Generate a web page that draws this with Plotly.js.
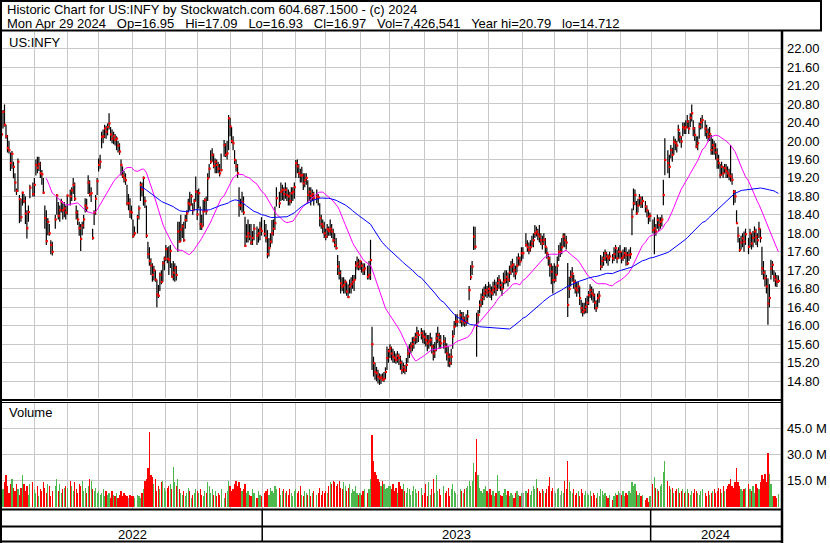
<!DOCTYPE html>
<html><head><meta charset="utf-8">
<script src="https://cdn.plot.ly/plotly-3.0.1.min.js"></script>
<style>html,body{margin:0;padding:0;background:#fff}#chart{width:830px;height:543px}</style>
</head><body><div id="chart"></div>
<script>
// ---- DATA (daily bars for US:INFY) ----
const firstDay = '2022-05-02';
const lastDay = '2024-04-29';
const holidays = ['2022-05-30','2022-06-20','2022-07-04','2022-09-05','2022-11-24','2022-12-26',
  '2023-01-02','2023-01-16','2023-02-20','2023-04-07','2023-05-29','2023-06-19','2023-07-04','2023-09-04','2023-11-23','2023-12-25',
  '2024-01-01','2024-01-15','2024-02-19','2024-03-29'];

const close = [
 20.14,20.63,20.35,20.10,19.85,19.80,19.52,19.72,19.44,19.10,18.92,19.55,18.74,18.35,18.88,18.70,18.43,18.11,18.46,18.99,18.85,
 19.05,19.48,19.42,19.50,19.30,19.28,18.88,18.33,17.83,18.25,18.00,17.75,17.60,18.30,18.82,18.38,18.50,18.68,18.50,18.54,18.45,
 18.82,18.80,18.93,19.05,18.75,18.45,18.30,18.11,17.88,18.17,18.30,18.60,18.55,19.10,18.85,18.87,17.90,18.45,18.75,19.13,
 19.48,19.55,20.09,20.10,20.27,20.20,20.30,20.38,20.14,20.05,20.10,20.02,20.05,19.90,19.77,19.48,19.25,19.20,19.15,18.65,18.65,18.47,18.45,
 17.94,18.00,18.35,18.54,19.05,18.95,19.20,18.70,17.95,17.55,17.40,17.30,17.10,17.20,17.00,16.68,16.65,17.10,16.95,17.35,17.45,
 17.66,17.45,17.43,17.62,17.06,17.15,17.25,17.10,18.04,17.82,18.08,18.15,17.85,18.29,18.43,18.65,18.62,18.80,18.50,18.70,18.90,
 18.41,18.87,18.20,18.15,18.47,18.72,18.48,19.19,19.40,19.55,19.70,19.46,19.55,19.48,19.40,19.30,19.37,19.91,19.70,19.73,20.49,
 20.31,20.00,19.95,19.59,19.45,19.30,18.61,18.60,18.68,18.45,17.73,17.93,18.00,17.93,17.80,17.90,18.10,17.95,18.00,18.10,18.05,
 17.99,17.90,17.55,17.68,17.82,18.00,18.10,18.22,18.76,18.65,18.90,18.94,18.85,18.94,18.83,18.80,18.70,18.87,18.90,19.00,
 19.52,19.45,19.30,19.25,19.26,19.08,19.15,19.20,18.83,18.90,18.81,18.85,18.76,18.80,18.78,18.33,18.20,18.15,18.00,
 17.93,18.09,18.05,18.10,18.04,17.85,17.75,17.68,17.28,17.14,16.92,16.85,16.88,16.95,16.74,16.62,16.85,16.90,16.95,16.99,17.30,17.35,17.28,
 17.39,17.30,17.20,17.24,17.06,17.10,17.42,15.60,15.19,15.00,14.97,14.90,14.86,14.88,14.83,14.85,15.00,15.30,15.45,
 15.51,15.40,15.33,15.30,15.26,15.35,15.30,15.20,15.04,15.10,15.04,15.15,15.40,15.48,15.55,15.60,15.69,15.75,15.84,15.80,15.84,15.78,
 15.75,15.69,15.62,15.66,15.69,15.55,15.40,15.47,15.73,15.80,15.69,15.62,15.66,15.55,15.40,15.33,15.19,15.33,15.77,15.98,16.09,
 16.09,16.23,16.10,16.16,16.07,16.09,16.20,16.77,17.05,17.28,17.93,17.71,16.00,16.23,16.45,16.56,16.62,16.70,16.77,16.72,
 16.80,16.74,16.70,16.77,16.85,16.80,16.92,16.99,16.88,16.80,16.95,16.99,17.06,17.00,17.15,17.28,17.32,17.20,17.13,17.30,17.46,17.39,17.57,
 17.57,17.75,17.70,17.64,17.70,17.78,17.85,18.00,18.04,17.98,17.93,17.85,17.78,17.86,17.71,17.57,17.46,17.30,17.17,16.99,
 16.99,17.10,17.30,17.60,17.60,17.70,17.93,17.85,17.80,16.45,16.80,17.06,17.13,16.95,16.81,16.77,16.85,16.60,16.38,16.30,16.34,16.41,
 16.50,16.66,16.77,16.70,16.66,16.50,16.38,16.60,16.65,17.28,17.40,17.46,17.57,17.50,17.46,17.50,17.46,17.55,17.68,17.46,17.60,
 17.60,17.46,17.50,17.57,17.53,17.35,17.53,17.55,18.36,18.65,18.83,18.43,18.60,18.76,18.65,18.70,18.58,18.50,18.36,18.38,
 18.07,18.11,18.04,18.29,18.18,18.25,18.30,18.83,19.59,19.52,19.44,19.80,19.70,19.98,19.95,19.90,20.24,20.09,19.99,20.30,20.27,
 20.30,20.42,20.27,20.50,20.60,20.27,20.13,19.88,19.95,20.31,20.40,20.45,20.27,20.20,20.09,20.15,19.80,19.91,19.85,19.75,
 19.60,19.52,19.26,19.44,19.30,19.41,19.35,19.30,19.25,19.23,19.16,18.90,18.80,18.22,17.95,17.64,17.80,17.89,17.82,17.98,
 17.71,18.00,17.78,17.90,18.04,17.93,17.85,18.10,17.90,17.24,17.15,17.03,16.85,16.48,16.60,17.24,17.32,17.06,17.00,16.95,16.97
];
const high = [
 20.31,20.67,20.79,20.35,20.13,20.00,19.75,19.78,19.55,19.30,18.97,19.62,18.83,18.75,18.90,18.85,18.80,18.50,18.60,19.05,19.10,
 19.20,19.60,19.66,19.66,19.55,19.37,19.20,18.60,18.50,18.33,18.20,17.85,17.82,18.40,18.85,18.68,18.60,18.75,18.65,18.68,18.60,
 18.83,18.95,19.00,19.20,19.10,18.60,18.50,18.25,18.20,18.25,18.40,18.76,18.75,19.26,19.15,19.00,18.10,18.50,18.83,19.20,
 19.62,19.70,20.20,20.25,20.35,20.33,20.38,20.60,20.30,20.25,20.20,20.15,20.10,20.00,19.95,19.60,19.45,19.35,19.30,19.05,18.85,18.76,18.60,
 18.30,18.15,18.40,18.60,19.12,19.10,19.23,18.80,18.60,17.82,17.70,17.46,17.35,17.30,17.20,17.00,16.88,17.15,17.20,17.40,17.50,
 17.75,17.70,17.72,17.75,17.35,17.40,17.35,17.30,18.25,18.25,18.40,18.20,18.25,18.40,18.50,18.75,18.90,18.85,18.65,18.75,19.23,
 18.94,18.97,18.58,18.40,18.72,18.76,18.80,19.30,19.50,19.80,19.84,19.73,19.62,19.60,19.55,19.50,19.73,20.02,19.95,20.00,20.56,
 20.50,20.30,20.10,19.80,19.60,19.50,19.00,18.75,18.90,18.80,18.36,18.20,18.30,18.20,18.20,18.05,18.20,18.15,18.10,18.25,18.35,
 18.29,18.20,18.07,17.90,18.00,18.29,18.30,18.58,19.00,18.90,19.10,19.05,19.00,19.10,19.00,18.95,18.90,19.00,19.00,19.10,
 19.59,19.60,19.50,19.40,19.44,19.30,19.30,19.30,19.15,19.00,19.00,18.95,18.90,18.95,18.85,18.65,18.40,18.30,18.25,
 18.10,18.20,18.15,18.30,18.20,18.10,18.00,17.90,17.53,17.40,17.20,17.05,17.05,17.00,16.95,16.90,17.00,17.05,17.10,17.10,17.40,17.50,17.45,
 17.42,17.40,17.35,17.35,17.30,17.40,17.86,15.98,15.33,15.20,15.11,15.05,14.97,14.95,14.97,15.00,15.10,15.55,15.50,
 15.60,15.55,15.50,15.45,15.40,15.45,15.40,15.35,15.25,15.20,15.15,15.30,15.55,15.60,15.65,15.75,15.76,15.85,15.98,15.90,15.95,15.90,
 15.90,15.85,15.80,15.80,15.85,15.75,15.60,15.65,15.85,15.98,15.85,15.80,15.80,15.75,15.62,15.55,15.40,15.50,15.90,16.10,16.25,
 16.25,16.34,16.30,16.30,16.20,16.25,16.34,16.86,17.31,17.40,18.15,18.14,16.28,16.34,16.55,16.70,16.80,16.85,16.90,16.86,
 16.95,16.90,16.85,16.95,17.00,16.95,17.05,17.10,17.00,16.95,17.15,17.20,17.20,17.15,17.30,17.40,17.45,17.35,17.30,17.50,17.57,17.50,17.70,
 17.70,18.00,17.85,17.80,17.85,17.95,18.00,18.18,18.15,18.10,18.18,18.00,17.95,18.00,17.90,17.70,17.56,17.50,17.35,17.30,
 17.35,17.30,17.50,17.75,17.80,17.90,18.00,18.00,17.95,17.36,17.06,17.20,17.27,17.10,17.00,16.95,16.95,16.85,16.56,16.50,16.50,16.60,
 16.65,16.75,16.90,16.85,16.80,16.70,16.55,16.70,16.75,17.53,17.50,17.60,17.65,17.60,17.55,17.60,17.55,17.70,17.75,17.65,17.70,
 17.75,17.60,17.65,17.70,17.70,17.60,17.65,17.70,18.54,18.97,18.95,18.70,18.75,18.85,18.80,18.80,18.70,18.60,18.50,18.45,
 18.30,18.35,18.20,18.40,18.35,18.35,18.40,19.16,20.06,19.80,19.70,19.91,19.85,20.10,20.05,20.00,20.35,20.20,20.10,20.40,20.40,
 20.45,20.56,20.45,20.60,20.79,20.45,20.30,20.10,20.10,20.40,20.50,20.56,20.45,20.35,20.27,20.30,20.13,20.05,20.00,19.95,
 19.84,19.70,19.50,19.55,19.45,19.50,19.50,19.45,19.40,19.91,19.30,18.94,18.94,18.50,18.14,17.90,17.95,18.00,18.04,18.10,
 17.90,18.10,18.00,18.05,18.15,18.10,18.00,18.25,18.10,17.71,17.40,17.20,17.10,17.03,16.90,17.43,17.40,17.20,17.15,17.10,17.09
];
const low = [
 20.09,20.27,20.31,20.05,19.75,19.73,19.35,19.40,19.19,18.90,18.83,18.90,18.22,18.25,18.60,18.65,18.20,17.89,18.25,18.76,18.80,
 18.80,19.25,19.30,19.35,19.20,19.05,18.85,18.10,17.75,17.96,17.95,17.55,17.52,18.10,18.40,18.30,18.25,18.45,18.30,18.35,18.30,
 18.40,18.60,18.70,18.85,18.70,18.30,18.18,17.95,17.62,17.96,18.10,18.45,18.47,18.85,18.80,18.68,17.86,18.18,18.40,18.83,
 19.34,19.40,19.84,19.95,20.06,20.05,20.12,20.25,20.00,19.95,19.93,19.90,19.80,19.75,19.70,19.25,19.20,19.10,19.05,18.60,18.50,18.33,18.30,
 17.90,17.95,18.00,18.30,18.70,18.80,18.60,18.55,17.90,17.45,17.30,17.10,16.95,16.98,16.95,16.40,16.60,16.75,16.90,16.95,17.20,
 17.40,17.35,17.10,17.25,17.05,16.98,16.95,16.98,17.60,17.80,17.82,17.90,17.82,18.10,18.25,18.45,18.50,18.60,18.40,18.50,18.69,
 18.29,18.54,18.07,18.07,18.15,18.47,18.40,18.70,19.20,19.50,19.55,19.41,19.30,19.30,19.30,19.23,19.34,19.66,19.65,19.60,19.80,
 20.10,19.95,19.80,19.50,19.34,19.20,18.36,18.50,18.45,18.40,17.71,17.80,17.80,17.85,17.75,17.75,17.85,17.75,17.80,17.85,17.95,
 17.93,17.80,17.46,17.50,17.70,17.78,17.95,18.07,18.58,18.55,18.70,18.72,18.70,18.75,18.70,18.60,18.60,18.65,18.70,18.75,
 19.20,19.30,19.20,19.10,19.10,18.94,19.00,19.05,18.65,18.70,18.60,18.70,18.60,18.65,18.60,18.15,18.10,18.00,17.90,
 17.85,17.90,17.95,17.95,17.90,17.80,17.70,17.65,17.10,17.00,16.70,16.75,16.70,16.70,16.65,16.60,16.70,16.70,16.80,16.75,17.00,17.21,17.20,
 17.21,17.15,17.10,17.10,17.00,17.00,16.99,15.04,14.90,14.83,14.80,14.75,14.72,14.74,14.80,14.78,14.85,15.04,15.20,
 15.30,15.25,15.20,15.20,15.18,15.20,15.15,15.05,14.95,14.98,14.95,15.00,15.20,15.30,15.40,15.45,15.50,15.60,15.62,15.65,15.70,15.62,
 15.60,15.55,15.45,15.50,15.55,15.40,15.25,15.30,15.45,15.62,15.50,15.50,15.50,15.40,15.25,15.11,15.10,15.15,15.50,15.80,15.98,
 15.98,16.05,15.98,16.00,15.98,16.00,16.05,16.55,16.99,17.10,17.64,17.65,15.33,16.05,16.27,16.40,16.45,16.55,16.63,16.60,
 16.63,16.60,16.55,16.65,16.70,16.65,16.75,16.80,16.75,16.65,16.80,16.90,16.92,16.85,16.95,17.10,17.15,17.05,17.00,17.15,17.30,17.30,17.40,
 17.45,17.71,17.60,17.55,17.60,17.70,17.70,17.90,17.93,17.85,17.80,17.75,17.65,17.75,17.56,17.45,17.30,17.06,16.90,16.70,
 16.92,16.95,17.10,17.40,17.49,17.55,17.71,17.70,17.65,16.19,16.60,16.85,16.95,16.80,16.70,16.63,16.70,16.45,16.27,16.20,16.25,16.27,
 16.27,16.45,16.60,16.55,16.50,16.35,16.30,16.40,16.50,17.20,17.25,17.30,17.40,17.35,17.30,17.40,17.35,17.40,17.45,17.35,17.45,
 17.45,17.35,17.40,17.45,17.30,17.31,17.40,17.45,17.96,18.50,18.61,18.40,18.45,18.60,18.55,18.55,18.45,18.35,18.20,18.25,
 18.00,17.55,17.95,18.10,18.05,18.10,18.15,18.61,19.26,19.30,19.20,19.62,19.55,19.70,19.80,19.75,19.99,19.95,19.85,20.10,20.15,
 20.15,20.27,20.15,20.30,20.42,20.10,20.00,19.84,19.80,20.05,20.25,20.27,20.10,20.05,19.99,20.00,19.70,19.70,19.70,19.60,
 19.40,19.40,19.19,19.25,19.20,19.30,19.20,19.20,19.15,19.12,19.05,18.61,18.66,18.22,17.80,17.60,17.65,17.70,17.60,17.75,
 17.55,17.70,17.65,17.70,17.80,17.75,17.70,17.90,17.80,17.10,17.00,16.85,16.70,16.02,16.40,17.00,17.10,16.95,16.85,16.84,16.93
];
// daily volume, millions of shares
const volumeM = [
 7,10,14,18,12,8,13,16,11,9,13,10,7,11,18,13,9,12,7,13,14,
 10,8,12,6,10,9,14,11,8,13,12,6,9,12,16,9,13,8,10,11,12,
 11,15,12,9,14,10,8,13,12,15,9,11,8,12,16,15,10,9,11,8,
 9,7,8,10,6,9,7,8,5,9,7,6,8,5,7,9,6,8,7,6,5,7,6,
 6,5,7,6,5,8,10,15,16,22,43,18,17,13,16,9,12,10,14,15,11,
 9,11,12,13,10,23,14,12,16,10,8,7,9,6,8,11,9,5,7,8,10,
 9,8,10,7,6,9,8,14,12,8,10,7,9,6,8,7,10,5,8,9,15,
 12,9,10,13,15,12,14,11,9,10,13,8,9,7,6,10,8,5,9,7,6,
 8,9,10,7,11,9,8,12,10,11,7,9,10,8,9,7,10,8,6,9,
 10,8,9,12,7,6,9,8,7,10,6,8,9,7,8,11,7,9,8,
 9,8,12,14,13,15,14,12,13,15,11,10,14,12,9,11,13,8,10,9,12,8,7,
 8,7,9,10,8,10,16,41,26,20,18,16,14,12,15,13,10,11,12,
 12,10,13,9,11,8,14,12,10,13,9,8,11,10,7,9,12,10,8,9,11,7,
 8,13,6,14,7,10,16,8,18,9,10,7,12,8,9,11,6,10,13,9,8,
 7,10,9,8,10,11,12,15,12,15,25,20,39,18,11,9,8,10,12,9,
 8,10,7,9,6,8,18,9,7,6,8,10,7,9,6,8,7,5,8,9,7,6,8,
 8,9,8,10,7,9,12,10,16,11,9,8,10,9,8,10,12,17,9,11,
 9,8,10,11,7,9,8,15,10,26,14,9,8,10,7,8,9,6,10,8,7,9,
 8,7,9,6,8,7,5,8,6,10,9,7,8,6,5,7,4,6,8,7,9,
 8,7,9,6,8,7,9,8,14,12,13,9,7,8,6,7,4,5,3,6,
 13,17,11,10,9,12,13,20,26,15,12,10,11,8,9,10,11,8,9,10,8,
 9,10,8,7,9,8,10,9,8,7,9,10,8,6,9,7,8,9,10,8,
 9,11,10,8,12,9,10,12,13,16,12,11,14,22,14,12,10,9,10,11,
 13,10,9,12,8,13,11,10,14,18,16,19,14,31,19,13,6,6,6,5,7.43
];
const priceTickVals = [14.8,15.2,15.6,16.0,16.4,16.8,17.2,17.6,18.0,18.4,18.8,19.2,19.6,20.0,20.4,20.8,21.2,21.6,22.0];
const volumeTickVals = [15,30,45];
const volumeTickText = ['15.0 M','30.0 M','45.0 M'];
const maFastLen = 30, maSlowLen = 90;

// ---- BUILD ----
const W = 830, H = 543;
const X = px => px / W;
const Y = py => 1 - py / H;

const tradeX = [], tradeDates = [], monthGrid = [], yearStarts = [];
{
  const d = new Date(firstDay + 'T00:00:00Z'), end = new Date(lastDay + 'T00:00:00Z');
  let w = 0, pm = -1, py = -1;
  while (d <= end) {
    const dow = d.getUTCDay();
    if (dow !== 0 && dow !== 6) {
      const iso = d.toISOString().slice(0, 10);
      if (d.getUTCMonth() !== pm) { if (pm !== -1) monthGrid.push(w); pm = d.getUTCMonth(); }
      if (d.getUTCFullYear() !== py) { yearStarts.push({w: w, year: d.getUTCFullYear()}); py = d.getUTCFullYear(); }
      if (!holidays.includes(iso)) { tradeX.push(w); tradeDates.push(iso); }
      w++;
    }
    d.setUTCDate(d.getUTCDate() + 1);
  }
}
const n = Math.min(tradeX.length, close.length, high.length, low.length, volumeM.length);
const xMin = 0.33, xMax = 521.75;

function movingAverage(vals, len) {
  const out = [];
  for (let i = 0; i < n; i++) {
    if (i < len - 1) { out.push(null); continue; }
    let s = 0; for (let k = i - len + 1; k <= i; k++) s += vals[k];
    out.push(s / len);
  }
  return out;
}

const bx = [], by = [], cx = [], cy = [];
for (let i = 0; i < n; i++) {
  bx.push(tradeX[i], tradeX[i], null); by.push(low[i], high[i], null);
  cx.push(tradeX[i] + 0.3); cy.push(close[i]);
}
const GREEN = '#4db84d', RED = '#ff0000', GRAY = '#a0a0a0';
const volColors = [];
for (let i = 0; i < n; i++) {
  if (i === 0) volColors.push(GREEN);
  else volColors.push(close[i] > close[i-1] ? GREEN : close[i] < close[i-1] ? RED : GRAY);
}

const traces = [
  {type:'scatter', mode:'lines', x:bx, y:by, xaxis:'x', yaxis:'y', line:{color:'#000', width:1.2}, hoverinfo:'skip', connectgaps:false},
  {type:'scatter', mode:'markers', x:cx, y:cy, xaxis:'x', yaxis:'y', marker:{symbol:'square', size:2.2, color:'#ff0000', line:{width:0}}, hoverinfo:'skip'},
  {type:'scatter', mode:'lines', x:tradeX.slice(0,n), y:movingAverage(close, maFastLen), xaxis:'x', yaxis:'y', line:{color:'#ff00ff', width:1}, hoverinfo:'skip'},
  {type:'scatter', mode:'lines', x:tradeX.slice(0,n), y:movingAverage(close, maSlowLen), xaxis:'x', yaxis:'y', line:{color:'#0000ff', width:1}, hoverinfo:'skip'},
  {type:'bar', x:tradeX.slice(0,n), y:volumeM.slice(0,n), xaxis:'x2', yaxis:'y2', width:0.8, marker:{color:volColors, line:{width:0}}, hoverinfo:'skip'}
];

const FONT = 'Liberation Sans, Arial, sans-serif';
const gridC = '#c8c8c8';
const blk = (x0,y0,x1,y1,w) => ({type:'line', xref:'paper', yref:'paper', x0:X(x0), y0:Y(y0), x1:X(x1), y1:Y(y1), line:{color:'#000', width:w}});
const shapes = [
  blk(0,1,822,1,2), blk(1,0,1,543,2), blk(821,0,821,31,2), blk(0,30.5,822,30.5,2),
  blk(782,31,782,543,2.5),
  blk(0,400,782,400,2), blk(0,402.5,782,402.5,1),
  blk(0,509.5,782,509.5,2), blk(0,526.5,782,526.5,2), blk(0,541.5,782,541.5,2)
];
const annotations = [
  {text:'Historic Chart for US:INFY by Stockwatch.com 604.687.1500 - (c) 2024', xref:'paper', yref:'paper', x:X(5), y:Y(10), xanchor:'left', yanchor:'middle', showarrow:false, font:{family:FONT, size:13, color:'#000'}},
  {text:'Mon Apr 29 2024\u00a0\u00a0 Op=16.95\u00a0\u00a0 Hi=17.09\u00a0\u00a0 Lo=16.93\u00a0\u00a0 Cl=16.97\u00a0\u00a0 Vol=7,426,541\u00a0\u00a0 Year hi=20.79\u00a0\u00a0 lo=14.712', xref:'paper', yref:'paper', x:X(5), y:Y(23), xanchor:'left', yanchor:'middle', showarrow:false, font:{family:FONT, size:13, color:'#000'}},
  {text:'US:INFY', xref:'paper', yref:'paper', x:X(7), y:Y(42), xanchor:'left', yanchor:'middle', showarrow:false, font:{family:FONT, size:13, color:'#000'}},
  {text:'Volume', xref:'paper', yref:'paper', x:X(7), y:Y(413), xanchor:'left', yanchor:'middle', showarrow:false, font:{family:FONT, size:13, color:'#000'}}
];
// year band
const bounds = [xMin];
for (let k = 1; k < yearStarts.length; k++) bounds.push(yearStarts[k].w - 0.5);
bounds.push(xMax);
for (let k = 0; k < yearStarts.length; k++) {
  if (k > 0) shapes.push({type:'line', xref:'x', yref:'paper', x0:bounds[k], x1:bounds[k], y0:Y(510), y1:Y(541), line:{color:'#000', width:1.5}});
  annotations.push({text:String(yearStarts[k].year), xref:'x', yref:'paper', x:(bounds[k]+bounds[k+1])/2, y:Y(534), xanchor:'center', yanchor:'middle', showarrow:false, font:{family:FONT, size:13, color:'#000'}});
}
if (!(close.length === high.length && high.length === low.length && low.length === volumeM.length && volumeM.length === tradeX.length)) {
  annotations.push({text:'LEN c'+close.length+' h'+high.length+' l'+low.length+' v'+volumeM.length+' t'+tradeX.length, xref:'paper', yref:'paper', x:0.5, y:0.5, showarrow:false, font:{size:20, color:'red'}});
}

const xCommon = {domain:[X(2), X(781)], range:[xMin, xMax], tickvals:monthGrid, showticklabels:false, ticks:'', showgrid:true, gridcolor:gridC, gridwidth:1, zeroline:false, showline:false, fixedrange:true};
const layout = {
  width:W, height:H, margin:{l:0, r:0, t:0, b:0}, paper_bgcolor:'#fff', plot_bgcolor:'#fff', showlegend:false,
  font:{family:FONT, size:13, color:'#000'}, bargap:0,
  xaxis:Object.assign({anchor:'y'}, xCommon),
  xaxis2:Object.assign({anchor:'y2', matches:'x'}, xCommon),
  yaxis:{domain:[Y(398), Y(32)], range:[14.436, 22.358], side:'right', anchor:'x', tickvals:priceTickVals, ticktext:priceTickVals.map(v => v.toFixed(2)), showgrid:true, gridcolor:gridC, gridwidth:1, zeroline:false, showline:false, ticks:'', ticklabelstandoff:5, tickfont:{family:FONT, size:13, color:'#000'}, fixedrange:true},
  yaxis2:{domain:[Y(509), Y(403)], range:[-1.14, 59.36], side:'right', anchor:'x2', tickvals:volumeTickVals, ticktext:volumeTickText, showgrid:true, gridcolor:gridC, gridwidth:1, zeroline:false, showline:false, ticks:'', ticklabelstandoff:5, tickfont:{family:FONT, size:13, color:'#000'}, fixedrange:true},
  shapes:shapes, annotations:annotations
};
Plotly.newPlot('chart', traces, layout, {staticPlot:true, displayModeBar:false});
</script></body></html>
